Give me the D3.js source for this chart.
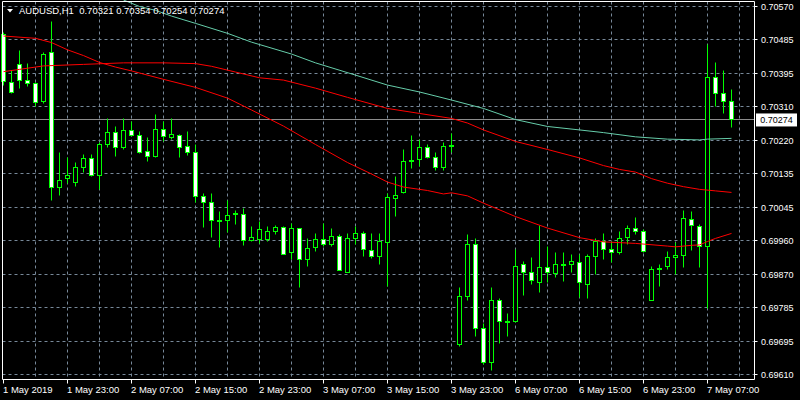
<!DOCTYPE html>
<html><head><meta charset="utf-8">
<script src="https://cdn.jsdelivr.net/npm/d3@7"></script>
<style>html,body{margin:0;padding:0;background:#000;overflow:hidden}text{font-family:"Liberation Sans",Arial,sans-serif}</style>
</head><body>
<svg id="c" width="800" height="400"></svg>
<script>
const symbolTitle = "AUDUSD,H1";
// OHLC per hourly bar (index 0 = 1 May 2019 15:00)
const opens  = [0.70498,0.70372,0.70419,0.70378,0.70370,0.70322,0.70451,0.70098,0.70121,0.70110,0.70150,0.70174,0.70129,0.70211,0.70242,0.70202,0.70247,0.70234,0.70193,0.70178,0.70250,0.70229,0.70234,0.70204,0.70190,0.70075,0.70059,0.70011,0.70011,0.70029,0.70028,0.69959,0.69961,0.69961,0.69983,0.69994,0.69928,0.69991,0.69911,0.69942,0.69963,0.69950,0.69970,0.69877,0.69964,0.69978,0.69934,0.69918,0.69955,0.70069,0.70085,0.70169,0.70171,0.70203,0.70177,0.70150,0.70207,0.69689,0.69813,0.69950,0.69731,0.69641,0.69802,0.69747,0.69748,0.69896,0.69875,0.69851,0.69888,0.69873,0.69896,0.69898,0.69901,0.69846,0.69919,0.69957,0.69937,0.69928,0.69968,0.69991,0.69984,0.69803,0.69886,0.69891,0.69916,0.69920,0.70015,0.69996,0.69943,0.70385,0.70344,0.70321];
const highs  = [0.70501,0.70404,0.70454,0.70420,0.70373,0.70450,0.70532,0.70190,0.70175,0.70162,0.70185,0.70183,0.70214,0.70279,0.70258,0.70279,0.70270,0.70243,0.70228,0.70287,0.70270,0.70277,0.70237,0.70243,0.70211,0.70083,0.70083,0.70034,0.70063,0.70039,0.70044,0.69995,0.70009,0.69997,0.70000,0.69995,0.70003,0.69991,0.69965,0.69977,0.70003,0.69991,0.69974,0.69977,0.69996,0.69983,0.69977,0.69977,0.70081,0.70126,0.70196,0.70234,0.70222,0.70211,0.70190,0.70214,0.70239,0.69837,0.69974,0.69966,0.69744,0.69836,0.69807,0.69770,0.69935,0.69906,0.69914,0.70000,0.69945,0.69927,0.69927,0.69922,0.69922,0.69924,0.69964,0.69978,0.69956,0.69984,0.70000,0.70020,0.69987,0.69893,0.69898,0.69932,0.69955,0.70037,0.70034,0.70002,0.70472,0.70424,0.70404,0.70354];
const lows   = [0.70365,0.70342,0.70355,0.70361,0.70308,0.70318,0.70063,0.70076,0.70107,0.70100,0.70138,0.70126,0.70093,0.70202,0.70178,0.70198,0.70230,0.70187,0.70165,0.70176,0.70217,0.70222,0.70176,0.70182,0.70058,0.69993,0.69967,0.69941,0.69981,0.70001,0.69946,0.69956,0.69952,0.69956,0.69974,0.69922,0.69911,0.69836,0.69891,0.69930,0.69943,0.69943,0.69881,0.69876,0.69949,0.69917,0.69912,0.69896,0.69839,0.70022,0.70083,0.70147,0.70152,0.70173,0.70142,0.70142,0.70189,0.69683,0.69803,0.69710,0.69635,0.69620,0.69690,0.69710,0.69745,0.69817,0.69844,0.69823,0.69849,0.69863,0.69852,0.69876,0.69810,0.69807,0.69870,0.69909,0.69902,0.69922,0.69950,0.69975,0.69928,0.69803,0.69839,0.69884,0.69871,0.69889,0.69933,0.69889,0.69783,0.70310,0.70291,0.70254];
const closes = [0.70374,0.70346,0.70378,0.70370,0.70320,0.70446,0.70098,0.70117,0.70130,0.70151,0.70174,0.70130,0.70211,0.70242,0.70203,0.70247,0.70234,0.70189,0.70178,0.70250,0.70230,0.70237,0.70203,0.70190,0.70075,0.70059,0.70011,0.70011,0.70025,0.70029,0.69959,0.69968,0.69987,0.69984,0.69994,0.69923,0.69991,0.69911,0.69939,0.69963,0.69950,0.69971,0.69882,0.69965,0.69978,0.69937,0.69918,0.69956,0.70072,0.70076,0.70166,0.70169,0.70203,0.70176,0.70151,0.70205,0.70207,0.69813,0.69948,0.69731,0.69641,0.69802,0.69747,0.69747,0.69893,0.69875,0.69854,0.69888,0.69875,0.69896,0.69896,0.69906,0.69849,0.69917,0.69956,0.69937,0.69929,0.69965,0.69991,0.69984,0.69930,0.69883,0.69886,0.69916,0.69921,0.70018,0.69998,0.69945,0.70385,0.70344,0.70323,0.70274];

// Moving averages (bar index, value)
const maSlowBars = [15,17,19,21,24,28,31,36,39,44,48,52,56,60,64,68,72,75,79,83,87,88,91];
const maSlowVals = [0.70587,0.70570,0.70560,0.70545,0.70526,0.70500,0.70477,0.70446,0.70423,0.70391,0.70365,0.70347,0.70326,0.70304,0.70275,0.70257,0.70248,0.70241,0.70230,0.70224,0.70222,0.70224,0.70226];
const maMidBars = [0,2,5,10,15,20,24,26,29,32,35,39,43,48,52,56,58,60,64,68,72,75,77,79,81,83,85,87,89,91];
const maMidVals = [0.70400,0.70406,0.70415,0.70419,0.70423,0.70423,0.70421,0.70414,0.70399,0.70384,0.70378,0.70357,0.70333,0.70304,0.70291,0.70278,0.70266,0.70248,0.70218,0.70197,0.70175,0.70155,0.70145,0.70138,0.70121,0.70109,0.70100,0.70093,0.70089,0.70085];
const maFastBars = [0,4,6,8,10,12,14,16,20,24,28,31,35,39,43,46,48,50,53,55,56,58,60,64,68,72,75,79,83,84,86,87,88,89,91];
const maFastVals = [0.70493,0.70487,0.70476,0.70457,0.70442,0.70424,0.70412,0.70402,0.70380,0.70359,0.70331,0.70300,0.70258,0.70210,0.70163,0.70133,0.70112,0.70099,0.70090,0.70081,0.70084,0.70076,0.70057,0.70022,0.69992,0.69967,0.69956,0.69952,0.69945,0.69943,0.69947,0.69948,0.69957,0.69965,0.69978];

const timeLabels = ["1 May 2019","1 May 23:00","2 May 07:00","2 May 15:00","2 May 23:00","3 May 07:00","3 May 15:00","3 May 23:00","6 May 07:00","6 May 15:00","6 May 23:00","7 May 07:00"];
const timeLabelBars = [0,8,16,24,32,40,48,56,64,72,80,88];
const priceTicks = [0.70570,0.70485,0.70395,0.70310,0.70220,0.70135,0.70045,0.69960,0.69870,0.69785,0.69695,0.69610];

const svg = d3.select("#c");
const x = d3.scaleLinear().domain([0, 91]).range([3.5, 731.5]);
const y = d3.scaleLinear().domain([0.69610, 0.70570]).range([374.5, 6.5]);
const crisp = v => Math.round(v - 0.5) + 0.5;
const L = 2.5, R = 754.5, T = 1.5, B = 379.5;
const gridColor = "#778899", bull = "#00ff00";

svg.append("rect").attr("width",800).attr("height",400).attr("fill","#000");

// grid
const grid = svg.append("g").attr("stroke", gridColor).attr("stroke-dasharray","3,3").attr("stroke-width",1);
grid.selectAll("line.h").data(priceTicks).join("line").attr("class","h")
  .attr("x1", L).attr("x2", R).attr("y1", d=>crisp(y(d))).attr("y2", d=>crisp(y(d)));
const vBars = d3.range(4, 93, 4);
grid.selectAll("line.v").data(vBars).join("line").attr("class","v")
  .attr("y1", T).attr("y2", B).attr("x1", d=>crisp(x(d))).attr("x2", d=>crisp(x(d)));

// current price line
const last = closes.length - 1;
svg.append("line").attr("x1", L).attr("x2", R)
  .attr("y1", crisp(y(closes[last]))).attr("y2", crisp(y(closes[last])))
  .attr("stroke", "#8c8c8c").attr("stroke-width", 1);

// candles
const bars = opens.map((o,i)=>({i, o, h:highs[i], l:lows[i], c:closes[i]}));
const cg = svg.append("g");
cg.selectAll("line.w").data(bars).join("line").attr("class","w")
  .attr("x1", d=>crisp(x(d.i))).attr("x2", d=>crisp(x(d.i)))
  .attr("y1", d=>crisp(y(d.h))).attr("y2", d=>crisp(y(d.l)))
  .attr("stroke", bull).attr("stroke-width",1);
cg.selectAll("rect.b").data(bars).join("rect").attr("class","b")
  .attr("x", d=>crisp(x(d.i)) - 2).attr("width", 4)
  .attr("y", d=>crisp(y(Math.max(d.o,d.c))))
  .attr("height", d=>Math.max(1, crisp(y(Math.min(d.o,d.c))) - crisp(y(Math.max(d.o,d.c)))))
  .attr("fill", d=> d.c > d.o ? "#000" : "#fff")
  .attr("stroke", bull).attr("stroke-width",1);

// moving averages
const line = d3.line().x(d=>x(d[0])).y(d=>y(d[1]));
const series = [
  {bars: maSlowBars, vals: maSlowVals, color: "#66cdaa"},
  {bars: maMidBars, vals: maMidVals, color: "#ff0000"},
  {bars: maFastBars, vals: maFastVals, color: "#ff0000"}
];
series.forEach(s=>{
  svg.append("path").attr("d", line(s.bars.map((b,i)=>[b, s.vals[i]])))
    .attr("fill","none").attr("stroke", s.color).attr("stroke-width",1);
});

// frame
const fr = svg.append("g").attr("stroke","#fff").attr("stroke-width",1);
fr.append("line").attr("x1",L).attr("x2",L).attr("y1",T).attr("y2",B);
fr.append("line").attr("x1",L).attr("x2",R).attr("y1",T).attr("y2",T);
fr.append("line").attr("x1",R).attr("x2",R).attr("y1",T).attr("y2",B);
fr.append("line").attr("x1",L).attr("x2",R).attr("y1",B).attr("y2",B);

// price axis
const pa = svg.append("g");
pa.selectAll("line").data(priceTicks).join("line")
  .attr("x1", R).attr("x2", R+3).attr("y1", d=>crisp(y(d))).attr("y2", d=>crisp(y(d)))
  .attr("stroke","#fff");
pa.selectAll("text").data(priceTicks).join("text")
  .attr("x", 761).attr("y", d=>y(d)+3.5).attr("fill","#fff").attr("font-size","9px")
  .text(d=>d.toFixed(5));

// current price label
const cy = y(closes[last]);
svg.append("rect").attr("x",756).attr("y",cy-6.5).attr("width",41).attr("height",13).attr("fill","#fff");
svg.append("text").attr("x",776.5).attr("y",cy+3.5).attr("text-anchor","middle").attr("fill","#000")
  .attr("font-size","9px").text(closes[last].toFixed(5));

// time axis
const ta = svg.append("g");
ta.selectAll("line").data(timeLabelBars).join("line")
  .attr("x1", d=>crisp(x(d))).attr("x2", d=>crisp(x(d))).attr("y1", B).attr("y2", B+4)
  .attr("stroke","#fff");
ta.selectAll("text").data(timeLabelBars).join("text")
  .attr("x", d=>x(d) - 0.5).attr("y", 393).attr("fill","#fff").attr("font-size","9.5px")
  .text((d,i)=>timeLabels[i]);

// title
svg.append("path").attr("d","M7,9L13,9L10,12.5Z").attr("fill","#fff");
svg.append("text").attr("x",19).attr("y",14).attr("fill","#fff").attr("font-size","9.5px")
  .attr("xml:space","preserve").style("white-space","pre")
  .text(`${symbolTitle}  ${opens[last].toFixed(5)} ${highs[last].toFixed(5)} ${lows[last].toFixed(5)} ${closes[last].toFixed(5)}`);
</script>
</body></html>
